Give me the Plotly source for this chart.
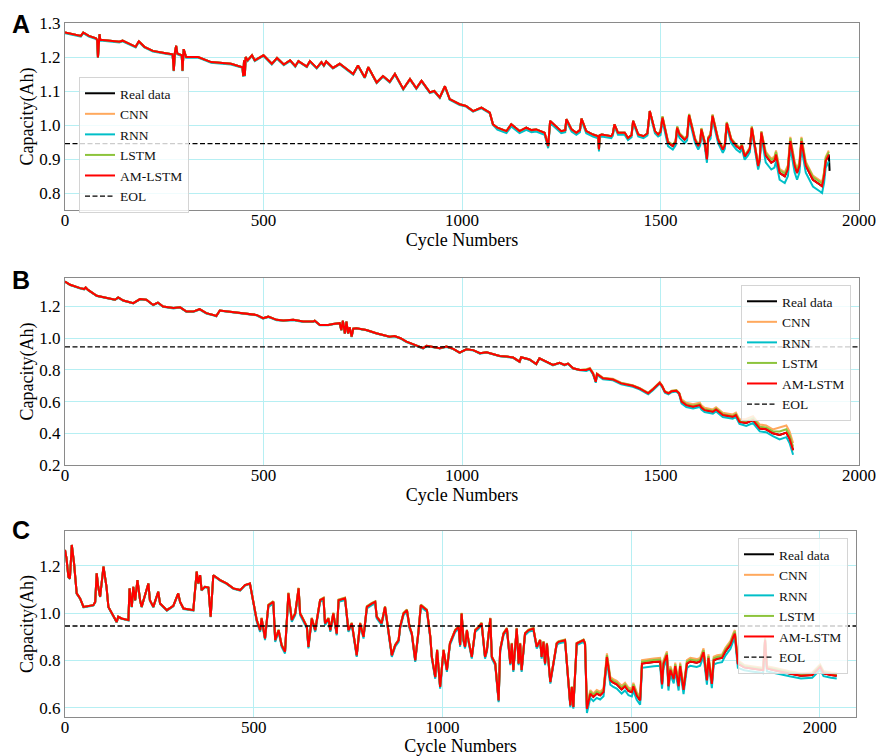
import numpy as np
import plotly.graph_objects as go

W, H = 877, 756

# ---------------- Panel A ----------------
A_cycle = [0, 20, 40, 46, 60, 78, 81, 83, 85, 87, 89, 95, 137, 145, 178, 186, 200, 221, 250, 271,
           274, 277, 280, 283, 294, 296, 299, 305, 335, 368, 418, 447, 449, 451, 453, 455, 460, 467, 471, 478,
           500, 521, 534, 551, 567, 580, 588, 609, 617, 634, 646, 652, 658, 675, 692, 726, 738, 755, 764, 785,
           801, 818, 831, 852, 869, 885, 898, 919, 930, 944, 957, 969, 994, 1010, 1028, 1049, 1070, 1078, 1089, 1112,
           1124, 1145, 1162, 1175, 1187, 1208, 1217, 1222, 1234, 1250, 1260, 1263, 1276, 1288, 1297, 1301, 1313, 1330,
           1343, 1345, 1347, 1352, 1376, 1380, 1384, 1393, 1410, 1418, 1427, 1431, 1444, 1457, 1467, 1473, 1486, 1494,
           1500, 1505, 1519, 1531, 1538, 1542, 1548, 1561, 1567, 1572, 1587, 1595, 1600, 1603, 1611, 1617, 1620, 1626,
           1631, 1645, 1657, 1662, 1667, 1678, 1691, 1700, 1705, 1712, 1720, 1725, 1730, 1740, 1746, 1750, 1754, 1765,
           1779, 1787, 1791, 1800, 1813, 1821, 1827, 1838, 1844, 1850, 1855, 1866, 1884, 1901, 1907, 1912, 1916, 1924,
           1926]
A_real = [1.272, 1.268, 1.262, 1.272, 1.262, 1.255, 1.25, 1.199, 1.24, 1.267, 1.25, 1.25, 1.245, 1.248, 1.23, 1.246,
          1.23, 1.218, 1.212, 1.208, 1.16, 1.215, 1.233, 1.21, 1.205, 1.16, 1.223, 1.2, 1.2, 1.185, 1.18, 1.17, 1.144,
          1.19, 1.145, 1.2, 1.19, 1.2, 1.205, 1.19, 1.205, 1.18, 1.197, 1.178, 1.19, 1.173, 1.188, 1.172, 1.188, 1.168,
          1.185, 1.175, 1.187, 1.168, 1.18, 1.15, 1.175, 1.14, 1.17, 1.125, 1.144, 1.127, 1.15, 1.106, 1.135, 1.108,
          1.13, 1.096, 1.1, 1.081, 1.114, 1.076, 1.061, 1.056, 1.041, 1.051, 1.036, 1.002, 0.992, 0.982, 1.002, 0.982,
          0.992, 0.985, 0.987, 0.977, 0.938, 1.012, 1.0, 0.982, 0.985, 1.017, 0.987, 0.977, 0.985, 1.019, 0.982, 0.972,
          0.967, 0.928, 0.97, 0.972, 0.967, 0.975, 1.002, 0.977, 0.977, 0.962, 0.97, 1.012, 0.972, 0.967, 0.975, 1.041,
          0.982, 0.972, 0.98, 1.022, 0.948, 0.938, 0.95, 0.992, 0.972, 0.957, 0.965, 1.029, 0.957, 0.938, 0.95, 0.987,
          0.95, 0.899, 0.96, 0.97, 1.027, 0.957, 0.928, 0.94, 1.005, 0.957, 0.938, 0.93, 0.94, 0.908, 0.92, 0.93, 0.992,
          0.92, 0.879, 0.9, 0.978, 0.91, 0.889, 0.895, 0.913, 0.859, 0.849, 0.87, 0.953, 0.88, 0.859, 0.88, 0.953, 0.88,
          0.839, 0.825, 0.82, 0.85, 0.894, 0.913, 0.865]
# model deviations from the real curve (read per cycle range)
A_dev_from = [0, 1080, 1500, 1760]
A_dev_cnn = [0.0, 0.0, 0.004, 0.012]
A_dev_rnn = [-0.002, -0.006, -0.01, -0.02]
A_dev_lstm = [0.0, 0.0, 0.003, 0.008]
A_dev_am = [0.0, 0.0, 0.0, 0.0]

# ---------------- Panel B ----------------
B_cycle = [0, 13, 38, 48, 52, 58, 80, 105, 126, 134, 147, 172, 189, 205, 222, 234, 247, 273, 290, 306,
           323, 339, 356, 373, 381, 390, 424, 457, 482, 499, 512, 533, 550, 575, 600, 625, 629, 642, 663, 675,
           692, 696, 700, 705, 709, 713, 717, 722, 726, 734, 759, 784, 818, 830, 845, 860, 889, 902, 911, 928,
           944, 961, 978, 994, 1011, 1028, 1045, 1062, 1078, 1095, 1112, 1129, 1145, 1149, 1170, 1187, 1195, 1212,
           1229, 1246, 1258, 1267, 1280, 1297, 1313, 1322, 1330, 1337, 1340, 1355, 1380, 1401, 1430, 1447, 1469,
           1481, 1489, 1498, 1504, 1511, 1520, 1528, 1540, 1547, 1553, 1565, 1582, 1599, 1603, 1611, 1632, 1640,
           1657, 1665, 1682, 1690, 1699, 1716, 1733, 1750, 1766, 1783, 1800, 1817, 1825, 1834]
B_real = [1.358, 1.337, 1.316, 1.31, 1.32, 1.305, 1.268, 1.253, 1.243, 1.257, 1.238, 1.221, 1.247, 1.243, 1.21,
          1.225, 1.2, 1.19, 1.195, 1.168, 1.168, 1.183, 1.158, 1.147, 1.14, 1.175, 1.165, 1.158, 1.147, 1.126, 1.136,
          1.116, 1.112, 1.116, 1.105, 1.105, 1.11, 1.084, 1.084, 1.09, 1.095, 1.052, 1.11, 1.03, 1.105, 1.03, 1.07,
          1.01, 1.06, 1.063, 1.052, 1.031, 1.01, 1.014, 1.0, 0.978, 0.947, 0.937, 0.952, 0.945, 0.937, 0.947, 0.933,
          0.909, 0.93, 0.925, 0.905, 0.912, 0.9, 0.888, 0.884, 0.878, 0.852, 0.88, 0.866, 0.837, 0.873, 0.852, 0.831,
          0.845, 0.831, 0.84, 0.81, 0.8, 0.8, 0.808, 0.778, 0.725, 0.774, 0.747, 0.74, 0.715, 0.7, 0.683, 0.652,
          0.678, 0.7, 0.719, 0.698, 0.662, 0.652, 0.665, 0.669, 0.652, 0.6, 0.578, 0.568, 0.578, 0.562, 0.546, 0.536,
          0.55, 0.515, 0.51, 0.504, 0.515, 0.472, 0.465, 0.483, 0.43, 0.425, 0.4, 0.39, 0.404, 0.367, 0.293]
B_dev_from = [0, 1300, 1550, 1700, 1800]
B_dev_cnn = [0.0, 0.004, 0.015, 0.025, 0.045]
B_dev_rnn = [-0.002, -0.006, -0.012, -0.018, -0.028]
B_dev_lstm = [0.0, 0.002, 0.006, 0.012, 0.022]
B_dev_am = [0.0, 0.0, 0.0, 0.0, 0.0]

# ---------------- Panel C ----------------
C_cycle = [0, 4, 9, 13, 18, 24, 31, 40, 49, 75, 80, 84, 88, 93, 102, 110, 115, 128, 137, 141,
           150, 168, 171, 177, 181, 186, 192, 199, 203, 221, 225, 234, 247, 252, 270, 287, 300, 305, 314, 340,
           349, 353, 358, 362, 371, 380, 386, 393, 402, 411, 428, 446, 464, 477, 490, 499, 508, 517, 521, 530,
           539, 552, 557, 566, 574, 583, 592, 601, 610, 619, 623, 632, 641, 645, 654, 663, 676, 685, 689, 698,
           703, 711, 720, 725, 742, 751, 760, 773, 782, 791, 800, 813, 822, 826, 839, 848, 857, 866, 875, 884,
           888, 897, 906, 913, 919, 928, 937, 943, 959, 968, 972, 981, 986, 994, 1003, 1012, 1020, 1034, 1043, 1047,
           1051, 1056, 1060, 1065, 1069, 1078, 1087, 1096, 1104, 1113, 1118, 1127, 1131, 1140, 1149, 1153, 1162, 1171,
           1180, 1184, 1188, 1197, 1202, 1206, 1210, 1219, 1228, 1241, 1250, 1259, 1263, 1268, 1272, 1277, 1286, 1294,
           1303, 1308, 1325, 1330, 1339, 1343, 1347, 1356, 1365, 1374, 1378, 1383, 1392, 1400, 1409, 1418, 1427, 1436,
           1445, 1453, 1462, 1475, 1484, 1493, 1502, 1506, 1515, 1524, 1529, 1542, 1560, 1577, 1582, 1586, 1595, 1599,
           1604, 1613, 1617, 1626, 1630, 1639, 1648, 1657, 1674, 1683, 1692, 1701, 1705, 1714, 1719, 1728, 1741, 1750,
           1763, 1771, 1775, 1783, 1800, 1820, 1850, 1855, 1860, 1880, 1900, 1920, 1950, 1980, 2001, 2010, 2030, 2045]
C_real = [1.267, 1.231, 1.153, 1.146, 1.288, 1.21, 1.083, 1.062, 1.026, 1.033, 1.047, 1.168, 1.111, 1.069, 1.196,
          1.111, 1.026, 0.991, 0.962, 0.984, 0.977, 0.97, 1.104, 1.026, 1.111, 1.054, 1.139, 1.054, 1.026, 1.125,
          1.054, 1.026, 1.09, 1.04, 1.012, 1.03, 1.083, 1.047, 1.019, 1.012, 1.175, 1.125, 1.16, 1.097, 1.111, 1.108,
          0.984, 1.16, 1.15, 1.139, 1.125, 1.104, 1.097, 1.118, 1.125, 1.047, 0.97, 0.927, 0.977, 0.892, 1.033, 1.047,
          0.885, 0.927, 0.864, 0.836, 1.083, 0.97, 0.998, 1.104, 0.998, 0.97, 0.941, 0.857, 0.977, 0.927, 1.054, 1.062,
          0.956, 0.977, 0.927, 0.998, 0.913, 1.054, 1.062, 0.927, 0.956, 0.821, 0.956, 0.899, 1.026, 1.04, 1.047,
          0.984, 0.956, 1.026, 0.927, 0.821, 0.864, 0.885, 0.941, 0.998, 1.012, 0.941, 0.913, 0.8, 0.927, 1.033,
          1.012, 0.899, 0.814, 0.729, 0.843, 0.687, 0.843, 0.758, 0.871, 0.927, 0.941, 0.864, 0.998, 0.885, 0.857,
          0.927, 0.885, 0.814, 0.927, 0.94, 0.956, 0.814, 0.843, 0.977, 0.814, 0.786, 0.63, 0.843, 0.913, 0.934,
          0.786, 0.871, 0.758, 0.934, 0.786, 0.871, 0.758, 0.913, 0.927, 0.934, 0.857, 0.885, 0.814, 0.878, 0.786,
          0.871, 0.708, 0.786, 0.871, 0.878, 0.885, 0.786, 0.609, 0.687, 0.602, 0.871, 0.878, 0.885, 0.871, 0.595,
          0.659, 0.645, 0.659, 0.652, 0.666, 0.814, 0.715, 0.705, 0.698, 0.677, 0.69, 0.67, 0.665, 0.69, 0.651, 0.63,
          0.786, 0.79, 0.793, 0.795, 0.698, 0.786, 0.823, 0.69, 0.76, 0.72, 0.775, 0.69, 0.775, 0.675, 0.786, 0.795,
          0.79, 0.795, 0.835, 0.715, 0.81, 0.7, 0.8, 0.806, 0.81, 0.838, 0.866, 0.9, 0.913, 0.786, 0.77, 0.765, 0.758,
          0.885, 0.765, 0.758, 0.75, 0.744, 0.735, 0.738, 0.772, 0.745, 0.738, 0.735]
C_dev_from = [0, 500, 1380, 1790]
C_dev_cnn = [0.0, 0.003, 0.015, 0.01]
C_dev_rnn = [-0.002, -0.007, -0.018, -0.012]
C_dev_lstm = [0.0, 0.002, 0.008, 0.005]
C_dev_am = [0.0, 0.0, 0.0, 0.0]

EOL = 0.945
model_names = ["CNN", "RNN", "LSTM", "AM-LSTM"]
colors = {"Real data": "#000000", "CNN": "#ffa95e", "RNN": "#00bfc8", "LSTM": "#8cc43c", "AM-LSTM": "#ff0000"}
y_ticks_A = [0.8, 0.9, 1.0, 1.1, 1.2, 1.3]
y_ticks_B = [0.2, 0.4, 0.6, 0.8, 1.0, 1.2]
y_ticks_C = [0.6, 0.8, 1.0, 1.2]
x_ticks = [0, 500, 1000, 1500, 2000]

assert len(A_cycle) == len(A_real) and len(B_cycle) == len(B_real) and len(C_cycle) == len(C_real)


def with_dev(cyc, real, dev_from, dev):
    idx = np.searchsorted(dev_from, cyc, side="right") - 1
    return np.asarray(real) + np.asarray(dev)[idx]


panels = [
    dict(tag="A", cyc=A_cycle, real=A_real, npred=len(A_cycle) - 1, dfrom=A_dev_from,
         devs=[A_dev_cnn, A_dev_rnn, A_dev_lstm, A_dev_am], xr=[0, 2000], yr=[0.75, 1.30], yt=y_ticks_A,
         px=(65, 859), py=(23, 210), leg=dict(x=79 / W, y=1 - 77 / H, xanchor="left", yanchor="top")),
    dict(tag="B", cyc=B_cycle, real=B_real, npred=len(B_cycle), dfrom=B_dev_from,
         devs=[B_dev_cnn, B_dev_rnn, B_dev_lstm, B_dev_am], xr=[0, 2000], yr=[0.2, 1.38], yt=y_ticks_B,
         px=(65, 859), py=(278, 465), leg=dict(x=851 / W, y=1 - 285 / H, xanchor="right", yanchor="top")),
    dict(tag="C", cyc=C_cycle, real=C_real, npred=len(C_cycle), dfrom=C_dev_from,
         devs=[C_dev_cnn, C_dev_rnn, C_dev_lstm, C_dev_am], xr=[0, 2096], yr=[0.56, 1.347], yt=y_ticks_C,
         px=(65, 856), py=(531, 717), leg=dict(x=848 / W, y=1 - 538 / H, xanchor="right", yanchor="top")),
]

SERIF = "Liberation Serif, Times New Roman, serif"
fig = go.Figure()
layout = dict(width=W, height=H, autosize=False, margin=dict(l=0, r=0, t=0, b=0, autoexpand=False),
              paper_bgcolor="white", plot_bgcolor="white", annotations=[],
              font=dict(family=SERIF, color="#000000"))

for i, p in enumerate(panels):
    k = "" if i == 0 else str(i + 1)
    xa, ya, lg = "x" + k, "y" + k, "legend" + k
    cyc = np.asarray(p["cyc"])
    fig.add_trace(go.Scatter(x=cyc, y=p["real"], mode="lines", name="Real data", xaxis=xa, yaxis=ya,
                             legend=lg, line=dict(color=colors["Real data"], width=2.0)))
    n = p["npred"]
    for name, dev in zip(model_names, p["devs"]):
        yv = with_dev(cyc[:n], np.asarray(p["real"])[:n], p["dfrom"], dev)
        fig.add_trace(go.Scatter(x=cyc[:n], y=yv, mode="lines", name=name, xaxis=xa, yaxis=ya, legend=lg,
                                 line=dict(color=colors[name], width=2.0)))
    fig.add_trace(go.Scatter(x=p["xr"], y=[EOL, EOL], mode="lines", name="EOL", xaxis=xa, yaxis=ya, legend=lg,
                             line=dict(color="#000000", width=1.3, dash="5px,2.5px")))

    axis_common = dict(showline=True, mirror=True, linecolor="#8a8a8a", linewidth=1.3,
                       showgrid=True, gridcolor="#b6eff3", gridwidth=1, zeroline=False, automargin=False,
                       ticks="", tickfont=dict(family=SERIF, size=17, color="#000000"))
    layout["xaxis" + k] = dict(axis_common, domain=[p["px"][0] / W, p["px"][1] / W], range=p["xr"],
                               tickvals=x_ticks, anchor=ya, ticklabelstandoff=-6,
                               title=dict(text="Cycle Numbers", standoff=2,
                                          font=dict(family=SERIF, size=18, color="#000000")))
    layout["yaxis" + k] = dict(axis_common, domain=[1 - p["py"][1] / H, 1 - p["py"][0] / H], range=p["yr"],
                               tickvals=p["yt"], tickformat=".1f", anchor=xa, ticklabelstandoff=0,
                               title=dict(text="Capacity(Ah)", standoff=0,
                                          font=dict(family=SERIF, size=18, color="#000000")))
    layout[lg] = dict(p["leg"], bgcolor="rgba(255,255,255,0.8)", bordercolor="#d4d4d4", borderwidth=1,
                      font=dict(family=SERIF, size=13.5, color="#111111"), itemwidth=30, tracegroupgap=0)
    letter_y = {"A": 24, "B": 280, "C": 530}[p["tag"]]
    layout["annotations"].append(dict(text="<b>%s</b>" % p["tag"], x=21 / W, y=1 - letter_y / H,
                                      xref="paper", yref="paper", showarrow=False, xanchor="center",
                                      yanchor="middle", font=dict(family="Liberation Sans, Arial", size=25,
                                                                  color="#000000")))

fig.update_layout(**layout)
fig.write_html("out.html", config={"displayModeBar": False},
               post_script="document.body.style.margin='0px';document.body.style.overflow='hidden';")
